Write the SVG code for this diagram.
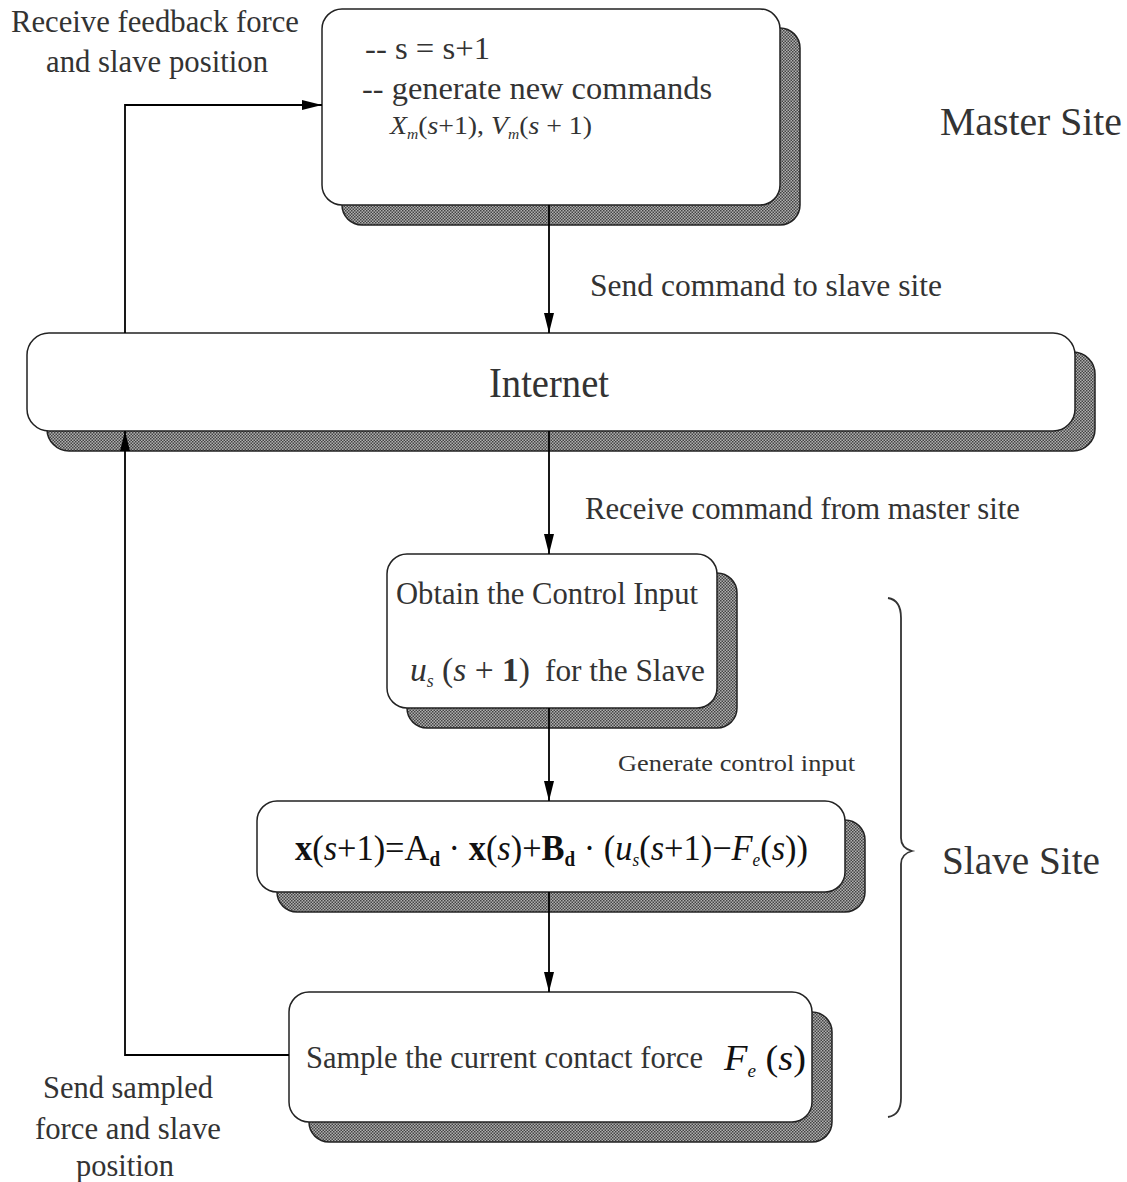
<svg xmlns="http://www.w3.org/2000/svg" width="1127" height="1182" viewBox="0 0 1127 1182">
<defs>
<pattern id="hatch" width="3" height="3" patternUnits="userSpaceOnUse">
<rect width="3" height="3" fill="#b0b0b0"/>
<rect width="1.5" height="1.5" fill="#444"/>
<rect x="1.5" y="1.5" width="1.5" height="1.5" fill="#444"/>
</pattern>
<marker id="arrL" viewBox="0 0 20 10" refX="20" refY="5" markerWidth="20" markerHeight="10" markerUnits="userSpaceOnUse" orient="auto">
<path d="M0,0 L20,5 L0,10 z" fill="#000"/>
</marker>
</defs>
<style>
.sh{fill:url(#hatch);stroke:#222;stroke-width:1.5}
.bx{fill:#fff;stroke:#222;stroke-width:1.5}
.t{font-family:"Liberation Serif","Times New Roman",serif;fill:#333}
.c{stroke:#000;stroke-width:1.8;fill:none}
.it{font-style:italic}
.b{font-weight:bold}
</style>
<rect width="1127" height="1182" fill="#fff"/>

<g id="master">
<rect class="sh" x="342" y="28" width="458" height="197" rx="20"/>
<rect class="bx" x="322" y="9" width="458" height="196" rx="20"/>
<text class="t" x="365" y="59" font-size="31" textLength="125" lengthAdjust="spacingAndGlyphs">--  s = s+1</text>
<text class="t" x="362" y="99" font-size="31" textLength="350" lengthAdjust="spacingAndGlyphs">--  generate new  commands</text>
<text class="t" x="390" y="134" font-size="25" textLength="202" lengthAdjust="spacingAndGlyphs"><tspan class="it">X</tspan><tspan class="it" font-size="14" dy="5">m</tspan><tspan dy="-5">(</tspan><tspan class="it">s</tspan>+1), <tspan class="it">V</tspan><tspan class="it" font-size="14" dy="5">m</tspan><tspan dy="-5">(</tspan><tspan class="it">s</tspan> + 1)</text>
</g>

<g id="internet">
<rect class="sh" x="47" y="352" width="1048" height="99" rx="22"/>
<rect class="bx" x="27" y="333" width="1048" height="98" rx="22"/>
<text class="t" x="549" y="397" font-size="42" text-anchor="middle" textLength="120" lengthAdjust="spacingAndGlyphs">Internet</text>
</g>

<g id="obtain">
<rect class="sh" x="407" y="573" width="330" height="155" rx="20"/>
<rect class="bx" x="387" y="554" width="330" height="154" rx="20"/>
<text class="t" x="396" y="604" font-size="31" textLength="302" lengthAdjust="spacingAndGlyphs">Obtain the Control Input</text>
<text class="t" x="410" y="681" font-size="34" textLength="120" lengthAdjust="spacingAndGlyphs"><tspan class="it">u</tspan><tspan class="it" font-size="18" dy="6">s</tspan><tspan dy="-6"> (</tspan><tspan class="it">s</tspan><tspan> + </tspan><tspan class="b">1</tspan>)</text>
<text class="t" x="545" y="681" font-size="31" textLength="160" lengthAdjust="spacingAndGlyphs">for the Slave</text>
</g>

<g id="equation">
<rect class="sh" x="277" y="820" width="588" height="92" rx="20"/>
<rect class="bx" x="257" y="801" width="588" height="91" rx="20"/>
<text class="t" x="295" y="860" font-size="36" textLength="513" lengthAdjust="spacingAndGlyphs" style="fill:#111"><tspan class="b">x</tspan>(<tspan class="it">s</tspan>+1)=A<tspan class="b" font-size="20" dy="6">d</tspan><tspan dy="-6"> · </tspan><tspan class="b">x</tspan>(<tspan class="it">s</tspan>)+<tspan class="b">B</tspan><tspan class="b" font-size="20" dy="6">d</tspan><tspan dy="-6"> · (</tspan><tspan class="it">u</tspan><tspan class="it" font-size="18" dy="6">s</tspan><tspan dy="-6">(</tspan><tspan class="it">s</tspan>+1)−<tspan class="it">F</tspan><tspan class="it" font-size="18" dy="6">e</tspan><tspan dy="-6">(</tspan><tspan class="it">s</tspan>))</text>
</g>

<g id="sample">
<rect class="sh" x="309" y="1012" width="523" height="130" rx="20"/>
<rect class="bx" x="289" y="992" width="523" height="130" rx="20"/>
<text class="t" x="306" y="1068" font-size="31" textLength="397" lengthAdjust="spacingAndGlyphs">Sample the current contact force</text>
<text class="t" x="724" y="1070" font-size="36" textLength="82" lengthAdjust="spacingAndGlyphs" style="fill:#111"><tspan class="it">F</tspan><tspan class="it" font-size="18" dy="7">e</tspan><tspan dy="-7"> (</tspan><tspan class="it">s</tspan>)</text>
</g>

<g id="connectors">
<line class="c" x1="549" y1="205" x2="549" y2="333" marker-end="url(#arrL)"/>
<line class="c" x1="549" y1="431" x2="549" y2="554" marker-end="url(#arrL)"/>
<line class="c" x1="549" y1="708" x2="549" y2="801" marker-end="url(#arrL)"/>
<line class="c" x1="549" y1="892" x2="549" y2="992" marker-end="url(#arrL)"/>
<polyline class="c" points="125,333 125,105 322,105" marker-end="url(#arrL)"/>
<polyline class="c" points="289,1055 125,1055 125,431" marker-end="url(#arrL)"/>
</g>

<g id="labels">
<text class="t" x="155" y="32" font-size="31" text-anchor="middle" textLength="288" lengthAdjust="spacingAndGlyphs">Receive feedback force</text>
<text class="t" x="157" y="72" font-size="31" text-anchor="middle" textLength="222" lengthAdjust="spacingAndGlyphs">and slave position</text>
<text class="t" x="1031" y="135" font-size="40" text-anchor="middle" textLength="182" lengthAdjust="spacingAndGlyphs">Master Site</text>
<text class="t" x="590" y="296" font-size="31" textLength="352" lengthAdjust="spacingAndGlyphs">Send command to  slave site</text>
<text class="t" x="585" y="519" font-size="31" textLength="435" lengthAdjust="spacingAndGlyphs">Receive command from master site</text>
<text class="t" x="618" y="771" font-size="24" textLength="237" lengthAdjust="spacingAndGlyphs">Generate control input</text>
<text class="t" x="1021" y="874" font-size="40" text-anchor="middle" textLength="158" lengthAdjust="spacingAndGlyphs">Slave Site</text>
<text class="t" x="128" y="1098" font-size="31" text-anchor="middle" textLength="170" lengthAdjust="spacingAndGlyphs">Send sampled</text>
<text class="t" x="128" y="1139" font-size="31" text-anchor="middle" textLength="186" lengthAdjust="spacingAndGlyphs">force and slave</text>
<text class="t" x="125" y="1176" font-size="31" text-anchor="middle" textLength="98" lengthAdjust="spacingAndGlyphs">position</text>
<path d="M888,598 Q901,600 901,618 L901,838 Q901,848 912,851 Q901,854 901,864 L901,1098 Q901,1115 888,1117" fill="none" stroke="#333" stroke-width="1.8"/>
</g>
</svg>
